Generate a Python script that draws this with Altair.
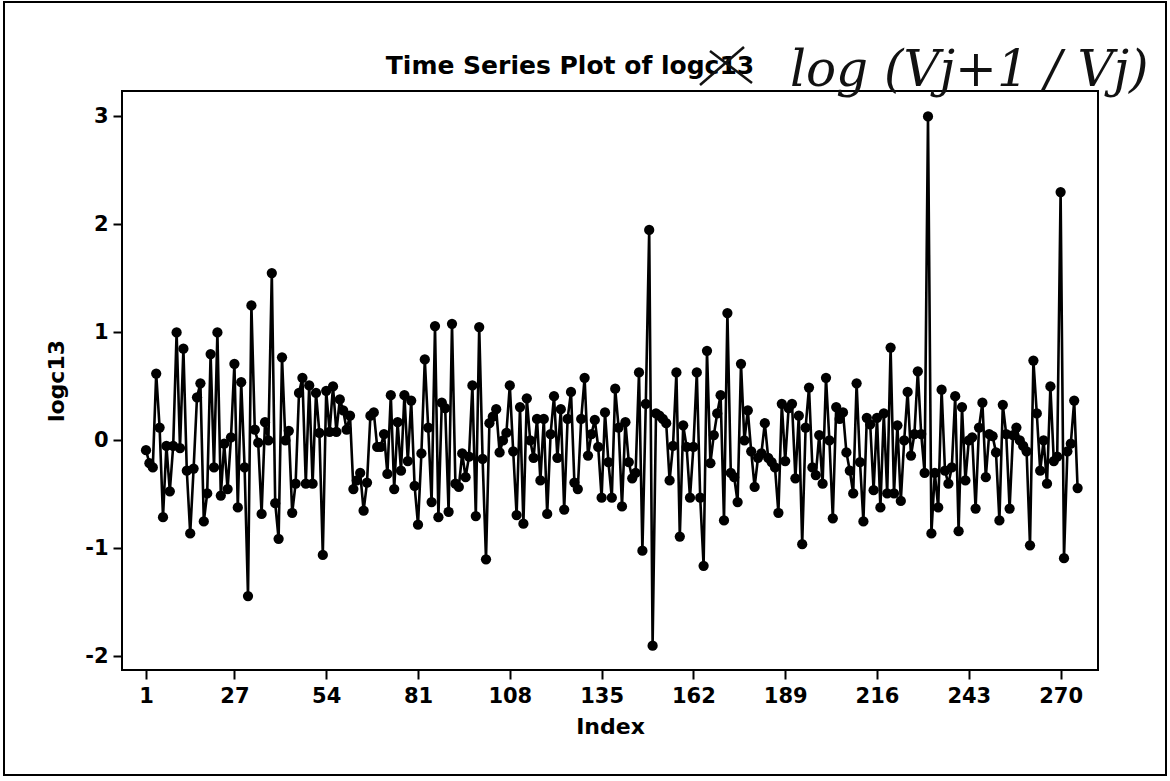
import altair as alt
import pandas as pd

# logc13 series, in index order
logc13 = [
    -0.09, -0.21, -0.25, 0.62, 0.12, -0.71, -0.05, -0.47, -0.05, 1.00,
    -0.07, 0.85, -0.28, -0.86, -0.26, 0.40, 0.53, -0.75, -0.49, 0.80,
    -0.25, 1.00, -0.51, -0.03, -0.45, 0.03, 0.71, -0.62, 0.54, -0.25,
    -1.44, 1.25, 0.10, -0.02, -0.68, 0.17, 0.00, 1.55, -0.58, -0.91,
    0.77, 0.00, 0.09, -0.67, -0.40, 0.44, 0.58, -0.40, 0.51, -0.40,
    0.44, 0.07, -1.06, 0.46, 0.08, 0.50, 0.08, 0.38, 0.28, 0.10,
    0.23, -0.45, -0.37, -0.30, -0.65, -0.39, 0.23, 0.26, -0.06, -0.06,
    0.06, -0.31, 0.42, -0.45, 0.17, -0.28, 0.42, -0.19, 0.37, -0.42,
    -0.78, -0.12, 0.75, 0.12, -0.57, 1.06, -0.71, 0.35, 0.30, -0.66,
    1.08, -0.40, -0.43, -0.12, -0.34, -0.15, 0.51, -0.70, 1.05, -0.17,
    -1.10, 0.16, 0.22, 0.29, -0.11, 0.00, 0.07, 0.51, -0.10, -0.69,
    0.31, -0.77, 0.39, 0.00, -0.16, 0.20, -0.37, 0.20, -0.68, 0.06,
    0.41, -0.16, 0.29, -0.64, 0.20, 0.45, -0.39, -0.45,
    0.20, 0.58, -0.14, 0.06, 0.19, -0.06, -0.53, 0.26, -0.20,
    -0.53, 0.48, 0.12, -0.61, 0.17, -0.20, -0.35, -0.30, 0.63, -1.02,
    0.34, 1.95, -1.90, 0.25, 0.23, 0.20, 0.16, -0.37, -0.05, 0.63,
    -0.89, 0.14, -0.06, -0.53, -0.06, 0.63, -0.53, -1.16, 0.83,
    -0.21, 0.05, 0.25, 0.42, -0.74, 1.18, -0.30, -0.34, -0.57, 0.71,
    0.00, 0.28, -0.10, -0.43, -0.16, -0.12, 0.16, -0.16, -0.20, -0.25,
    -0.67, 0.34, -0.19, 0.30, 0.34, -0.35, 0.23, -0.96, 0.12, 0.49,
    -0.25, -0.32, 0.05, -0.40, 0.58, 0.00, -0.72, 0.31, 0.20,
    0.26, -0.11, -0.28, -0.49, 0.53, -0.20, -0.75, 0.21, 0.15, -0.46,
    0.21, -0.62, 0.25, -0.49, 0.86, -0.49, 0.14, -0.56, 0.00, 0.45,
    -0.14, 0.06, 0.64, 0.06, -0.30, 3.00, -0.86, -0.30, -0.62, 0.47,
    -0.28, -0.40, -0.25, 0.41, -0.84, 0.31, -0.37, 0.00, 0.03, -0.63,
    0.12, 0.35, -0.34, 0.06, 0.04, -0.11, -0.74, 0.33,
    0.06, -0.63, 0.05, 0.12, 0.00, -0.05, -0.10, -0.97, 0.74, 0.25,
    -0.28, 0.00, -0.40, 0.50, -0.19, -0.15, 2.30, -1.09, -0.10, -0.03,
    0.37, -0.44,
]
index = list(range(1, len(logc13) + 1))

x_ticks = [1, 27, 54, 81, 108, 135, 162, 189, 216, 243, 270]
y_ticks = [-2, -1, 0, 1, 2, 3]

df = pd.DataFrame({"Index": index, "logc13": logc13})

W, H = 976, 579
FONT = "DejaVu Sans"
INT_LABEL = "datum.value < 0 ? '-' + abs(datum.value) : '' + datum.value"

xs = alt.Scale(domain=[-6.06, 281.0], nice=False, zero=False)
ys = alt.Scale(domain=[-2.125, 3.236], nice=False, zero=False)

x_axis = alt.Axis(
    values=x_ticks, title="Index", grid=False, labelFontSize=21,
    labelFont=FONT, labelFontWeight="bold", labelColor="black",
    titleFontSize=22, titleFont=FONT, titleFontWeight="bold", titleColor="black",
    tickColor="black", tickSize=9, tickWidth=2, domain=False,
    labelPadding=6, titlePadding=10, labelExpr=INT_LABEL,
)
y_axis = alt.Axis(
    values=y_ticks, title="logc13", grid=False, labelFontSize=21,
    labelFont=FONT, labelFontWeight="bold", labelColor="black",
    titleFontSize=22, titleFont=FONT, titleFontWeight="bold", titleColor="black",
    tickColor="black", tickSize=9, tickWidth=2, domain=False,
    labelPadding=5, titlePadding=16, labelExpr=INT_LABEL,
)

base = alt.Chart(df)

line = base.mark_line(color="black", strokeWidth=2.6).encode(
    x=alt.X("Index:Q", scale=xs, axis=x_axis),
    y=alt.Y("logc13:Q", scale=ys, axis=y_axis),
)
dots = base.mark_circle(color="black", size=105, opacity=1).encode(
    x=alt.X("Index:Q", scale=xs),
    y=alt.Y("logc13:Q", scale=ys),
)

one = pd.DataFrame({"a": [0]})

# chart heading above the frame
heading = alt.Chart(one).mark_text(
    font=FONT, fontWeight="bold", fontSize=25, align="center",
    baseline="bottom", color="black",
).encode(x=alt.value(448), y=alt.value(-12), text=alt.value("Time Series Plot of logc13"))

# pen strokes crossing out part of the heading
stroke_a = alt.Chart(one).mark_rule(color="#111111", strokeWidth=2.5).encode(
    x=alt.value(578), x2=alt.value(622), y=alt.value(-6), y2=alt.value(-44),
)
stroke_b = alt.Chart(one).mark_rule(color="#111111", strokeWidth=2.5).encode(
    x=alt.value(588), x2=alt.value(630), y=alt.value(-40), y2=alt.value(-8),
)

# handwritten note beside the heading
note = alt.Chart(one).mark_text(
    font="DejaVu Serif", fontStyle="italic", fontSize=50, align="left",
    baseline="middle", color="#111111",
).encode(x=alt.value(668), y=alt.value(-20), text=alt.value("log (Vj+1 / Vj)"))

# page border around the whole graph
border = alt.Chart(one).mark_rect(
    fill=None, stroke="black", strokeWidth=2,
).encode(x=alt.value(-118), x2=alt.value(1044), y=alt.value(-89), y2=alt.value(684))

chart = (
    alt.layer(border, line, dots, heading, stroke_a, stroke_b, note)
    .properties(
        width=W, height=H,
        autosize=alt.AutoSizeParams(type="none"),
        padding={"left": 122, "top": 91, "right": 72, "bottom": 111},
        background="white",
    )
    .configure_view(stroke="black", strokeWidth=2)
)

chart.save("out.html", embed_options={"renderer": "svg", "actions": False})
